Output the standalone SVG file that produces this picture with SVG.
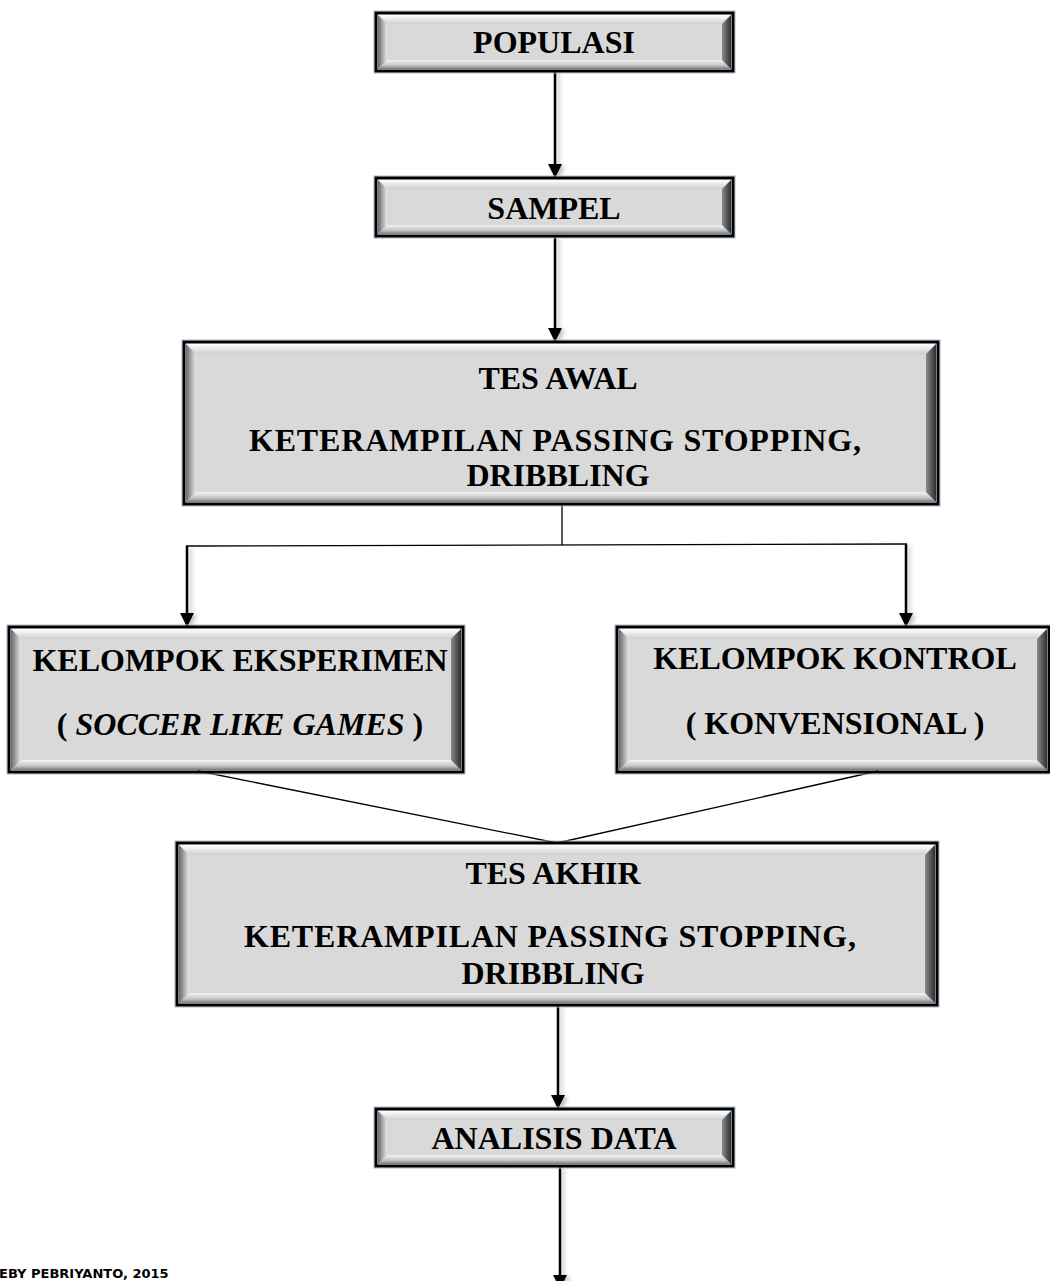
<svg xmlns="http://www.w3.org/2000/svg" width="1050" height="1281" viewBox="0 0 1050 1281">
<defs>
<linearGradient id="gTop" x1="0" y1="0" x2="0" y2="1"><stop offset="0" stop-color="#ffffff"/><stop offset="1" stop-color="#cfcfcf"/></linearGradient>
<linearGradient id="gBot" x1="0" y1="0" x2="0" y2="1"><stop offset="0" stop-color="#f4f4f4"/><stop offset="0.6" stop-color="#c4c4c4"/><stop offset="1" stop-color="#7a7a7a"/></linearGradient>
<linearGradient id="gLeft" x1="0" y1="0" x2="1" y2="0"><stop offset="0" stop-color="#6a6a6a"/><stop offset="1" stop-color="#e6e6e6"/></linearGradient>
<linearGradient id="gRight" x1="0" y1="0" x2="1" y2="0"><stop offset="0" stop-color="#8a8a8a"/><stop offset="1" stop-color="#2e2e2e"/></linearGradient>
<filter id="sh" filterUnits="userSpaceOnUse" x="0" y="0" width="1050" height="1281"><feDropShadow dx="3" dy="2" stdDeviation="2" flood-color="#000" flood-opacity="0.25"/></filter>
<marker id="ah" markerWidth="14" markerHeight="14" viewBox="0 0 14 14" refX="14" refY="7" orient="auto" markerUnits="userSpaceOnUse"><path d="M0,0 L14,7 L0,14 z" fill="#000"/></marker>
</defs>
<style>
.outer{fill:none;stroke:#000;stroke-width:3}
.halo{fill:none;stroke:#9dbbd9;stroke-width:1}
.face{fill:#d9d9d9}
.t{fill:url(#gTop)}
.b{fill:url(#gBot)}
.l{fill:url(#gLeft)}
.r{fill:url(#gRight)}
.lbl{font-family:"Liberation Serif","Times New Roman",serif;font-weight:bold;font-size:32px;fill:#000;text-anchor:middle}
.arrow{stroke:#000;stroke-width:2.5;fill:none;marker-end:url(#ah)}
.thin{stroke:#000;stroke-width:1.3;fill:none}
.foot{font-family:"DejaVu Sans",Verdana,sans-serif;font-weight:bold;font-size:13px;fill:#000}
</style>

<g id="connectors">
<g filter="url(#sh)">
<line class="arrow" x1="555" y1="71" x2="555" y2="178"/>
<line class="arrow" x1="555" y1="236" x2="555" y2="342"/>
<line class="arrow" x1="187" y1="546" x2="187" y2="627"/>
<line class="arrow" x1="906" y1="544" x2="906" y2="627"/>
<line class="arrow" x1="558" y1="1005" x2="558" y2="1109"/>
<line class="arrow" x1="560" y1="1166" x2="560" y2="1289"/>
</g>
<line class="thin" x1="562" y1="504" x2="562" y2="545"/>
<line class="thin" x1="186" y1="546" x2="907" y2="544"/>
<line class="thin" x1="198" y1="771" x2="557" y2="843"/>
<line class="thin" x1="878" y1="771" x2="557" y2="843"/>
</g>

<g id="populasi">
<rect class="halo" x="374" y="11" width="361" height="62"/>
<rect class="face" x="378" y="15" width="353" height="54"/>
<polygon class="t" points="378,15 731,15 722,24 387,24"/>
<polygon class="b" points="378,69 731,69 722,60 387,60"/>
<polygon class="l" points="378,15 387,24 387,60 378,69"/>
<polygon class="r" points="731,15 731,69 722,60 722,24"/>
<rect class="outer" x="376" y="13" width="357" height="58"/>
<text class="lbl" x="554" y="53">POPULASI</text>
</g>

<g id="sampel">
<rect class="halo" x="374" y="176" width="361" height="62"/>
<rect class="face" x="378" y="180" width="353" height="54"/>
<polygon class="t" points="378,180 731,180 722,189 387,189"/>
<polygon class="b" points="378,234 731,234 722,225 387,225"/>
<polygon class="l" points="378,180 387,189 387,225 378,234"/>
<polygon class="r" points="731,180 731,234 722,225 722,189"/>
<rect class="outer" x="376" y="178" width="357" height="58"/>
<text class="lbl" x="554" y="219">SAMPEL</text>
</g>

<g id="tes-awal">
<rect class="halo" x="182" y="340" width="758" height="166"/>
<rect class="face" x="186" y="344" width="750" height="158"/>
<polygon class="t" points="186,344 936,344 926,354 196,354"/>
<polygon class="b" points="186,502 936,502 926,492 196,492"/>
<polygon class="l" points="186,344 196,354 196,492 186,502"/>
<polygon class="r" points="936,344 936,502 926,492 926,354"/>
<rect class="outer" x="184" y="342" width="754" height="162"/>
<text class="lbl" x="558" y="389">TES AWAL</text>
<text class="lbl" x="555" y="451" textLength="612" lengthAdjust="spacing">KETERAMPILAN PASSING STOPPING,</text>
<text class="lbl" x="558" y="486">DRIBBLING</text>
</g>

<g id="kelompok-eksperimen">
<rect class="halo" x="7" y="625" width="458" height="149"/>
<rect class="face" x="11" y="629" width="450" height="141"/>
<polygon class="t" points="11,629 461,629 451,639 21,639"/>
<polygon class="b" points="11,770 461,770 451,760 21,760"/>
<polygon class="l" points="11,629 21,639 21,760 11,770"/>
<polygon class="r" points="461,629 461,770 451,760 451,639"/>
<rect class="outer" x="9" y="627" width="454" height="145"/>
<text class="lbl" x="240" y="671">KELOMPOK EKSPERIMEN</text>
<text class="lbl" x="240" y="735">( <tspan font-style="italic">SOCCER LIKE GAMES</tspan> )</text>
</g>

<g id="kelompok-kontrol">
<rect class="halo" x="615" y="625" width="436" height="149"/>
<rect class="face" x="619" y="629" width="428" height="141"/>
<polygon class="t" points="619,629 1047,629 1037,639 629,639"/>
<polygon class="b" points="619,770 1047,770 1037,760 629,760"/>
<polygon class="l" points="619,629 629,639 629,760 619,770"/>
<polygon class="r" points="1047,629 1047,770 1037,760 1037,639"/>
<rect class="outer" x="617" y="627" width="432" height="145"/>
<text class="lbl" x="835" y="669">KELOMPOK KONTROL</text>
<text class="lbl" x="835" y="734">( KONVENSIONAL )</text>
</g>

<g id="tes-akhir">
<rect class="halo" x="175" y="841" width="764" height="166"/>
<rect class="face" x="179" y="845" width="756" height="158"/>
<polygon class="t" points="179,845 935,845 925,855 189,855"/>
<polygon class="b" points="179,1003 935,1003 925,993 189,993"/>
<polygon class="l" points="179,845 189,855 189,993 179,1003"/>
<polygon class="r" points="935,845 935,1003 925,993 925,855"/>
<rect class="outer" x="177" y="843" width="760" height="162"/>
<text class="lbl" x="553" y="884">TES AKHIR</text>
<text class="lbl" x="550" y="947" textLength="612" lengthAdjust="spacing">KETERAMPILAN PASSING STOPPING,</text>
<text class="lbl" x="553" y="984">DRIBBLING</text>
</g>

<g id="analisis-data">
<rect class="halo" x="374" y="1107" width="361" height="61"/>
<rect class="face" x="378" y="1111" width="353" height="53"/>
<polygon class="t" points="378,1111 731,1111 722,1120 387,1120"/>
<polygon class="b" points="378,1164 731,1164 722,1155 387,1155"/>
<polygon class="l" points="378,1111 387,1120 387,1155 378,1164"/>
<polygon class="r" points="731,1111 731,1164 722,1155 722,1120"/>
<rect class="outer" x="376" y="1109" width="357" height="57"/>
<text class="lbl" x="554" y="1149">ANALISIS DATA</text>
</g>

<text class="foot" x="-1" y="1278">EBY PEBRIYANTO, 2015</text>
</svg>
